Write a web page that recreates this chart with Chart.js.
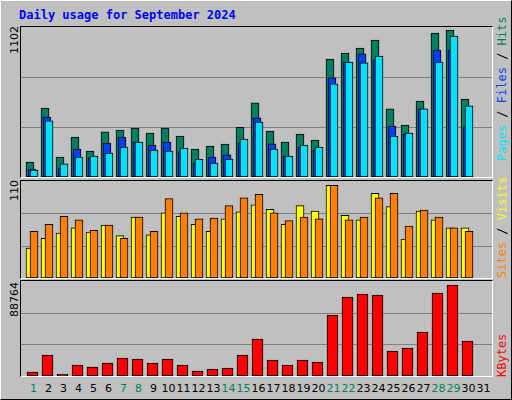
<!DOCTYPE html>
<html><head><meta charset="utf-8">
<script src="https://cdn.jsdelivr.net/npm/chart.js@4"></script>
<style>
body{margin:0;background:#c0c0c0;}
#wrap{position:absolute;left:0;top:0;width:510px;height:398px;border-left:1px solid #fff;border-top:1px solid #fff;border-right:1px solid #000;border-bottom:1px solid #000;background:#c0c0c0;font-family:"DejaVu Sans",sans-serif;overflow:hidden}
.p{position:absolute;border-top:1px solid #000;border-left:1px solid #000;border-right:1px solid #fff;border-bottom:1px solid #fff;}
canvas{position:absolute}
.t{position:absolute;white-space:nowrap}
.rot{transform-origin:0 0;transform:rotate(-90deg)}
</style></head><body><div id="wrap">
<div class="t" style="left:18px;top:7px;font:bold 12px 'DejaVu Sans Mono',monospace;color:#0000ff">Daily usage for September 2024</div>
<div class="p" style="left:19px;top:25px;width:471px;height:150px"></div>
<div class="p" style="left:19px;top:179px;width:471px;height:97px"></div>
<div class="p" style="left:19px;top:279px;width:471px;height:95px"></div>
<canvas id="c1" style="left:20px;top:26px;width:471px;height:150px" width="471" height="150"></canvas>
<canvas id="c2" style="left:20px;top:180px;width:471px;height:97px" width="471" height="97"></canvas>
<canvas id="c3" style="left:20px;top:280px;width:471px;height:95px" width="471" height="95"></canvas>
<div class="t rot" style="left:7px;top:53px;font-size:11px">1102</div>
<div class="t rot" style="left:7px;top:200px;font-size:11px">110</div>
<div class="t rot" style="left:7px;top:316px;font-size:11px">88764</div>
<div class="t rot" style="left:494px;top:160px;font:12px 'DejaVu Sans Mono',monospace"><span style="color:#00e0ff">Pages</span> / <span style="color:#0040ff">Files</span> / <span style="color:#008060">Hits</span></div>
<div class="t rot" style="left:494px;top:277px;font:12px 'DejaVu Sans Mono',monospace"><span style="color:#ff8000">Sites</span> / <span style="color:#ffff00">Visits</span></div>
<div class="t rot" style="left:494px;top:376px;font:12px 'DejaVu Sans Mono',monospace;color:#ff0000">KBytes</div>
<div id="xl"></div>
</div>
<script>
const days=[1,2,3,4,5,6,7,8,9,10,11,12,13,14,15,16,17,18,19,20,21,22,23,24,25,26,27,28,29,30,31];
const weekend=[1,7,8,14,15,21,22,28,29];
const hits=[110,507,147,294,191,331,345,360,323,360,301,206,228,242,367,544,338,257,316,272,867,911,948,1006,500,382,558,1058,1080,573,0];
const files=[59,441,66,206,140,250,294,257,235,257,184,103,147,162,250,434,243,154,220,198,728,845,904,860,375,316,500,933,933,368,0];
const pages=[51,412,96,147,154,176,220,257,198,191,213,132,103,132,279,404,206,154,235,220,684,845,838,889,301,323,500,845,1036,522,0];
const visits=[34,45,51,57,52,60,48,69,49,74,70,61,53,67,75,83,78,61,82,76,105,71,66,96,81,44,76,66,57,57,0];
const sites=[53,61,70,66,54,60,45,69,53,90,74,67,68,82,91,95,74,65,69,67,105,66,69,91,96,59,77,69,57,53,0];
const kbytes=[3736,19600,1870,10300,8400,12100,16800,15900,12100,15900,10300,4700,6500,7500,19600,34600,14900,10300,14900,13100,57000,73800,76600,75700,23400,26200,41100,77500,85000,32700,0];
const maxHits=1102,maxVisits=110,maxKB=88764;

const U=15, XMIN=1-11/U, XMAX=XMIN+471/U;
const gridPlugin={id:'g',beforeDatasetsDraw(ch){const c=ch.ctx,y=ch.scales.y,m=ch.scales.y.max;c.save();c.strokeStyle='#808080';c.lineWidth=1;
 [m/3,2*m/3].forEach(v=>{const p=Math.round(y.getPixelForValue(v))+0.5;c.beginPath();c.moveTo(0,p);c.lineTo(ch.width,p);c.stroke();});c.restore();}};
function ds(vals,off,color,w){return{data:days.map((d,i)=>({x:d+off/U,y:vals[i]})).filter(p=>p.y>0),backgroundColor:color,borderColor:'#000',borderWidth:1,barThickness:w,borderSkipped:false,grouped:false};}
function mk(id,sets,max){new Chart(document.getElementById(id),{type:'bar',data:{datasets:sets},plugins:[gridPlugin],
 options:{responsive:false,animation:false,events:[],layout:{padding:0},plugins:{legend:{display:false},tooltip:{enabled:false}},
 scales:{x:{type:'linear',min:XMIN,max:XMAX,offset:false,display:false,grid:{offset:false}},y:{min:0,max:max,display:false}}}});}
mk('c1',[ds(pages,2,'#00e0ff',8),ds(files,0,'#0040ff',8),ds(hits,-2,'#008060',8)],maxHits);
mk('c2',[ds(sites,2,'#ff8000',8),ds(visits,-2,'#ffff00',8)],maxVisits);
mk('c3',[ds(kbytes,0.5,'#ff0000',11)],maxKB);
const xl=document.getElementById('xl');
days.forEach(d=>{const e=document.createElement('div');e.className='t';e.textContent=d;
 e.style.cssText=`left:${32.5+U*(d-1)-10}px;width:20px;text-align:center;top:381px;font-size:11px;color:${weekend.includes(d)?'#008060':'#000'}`;xl.appendChild(e);});
</script></body></html>
